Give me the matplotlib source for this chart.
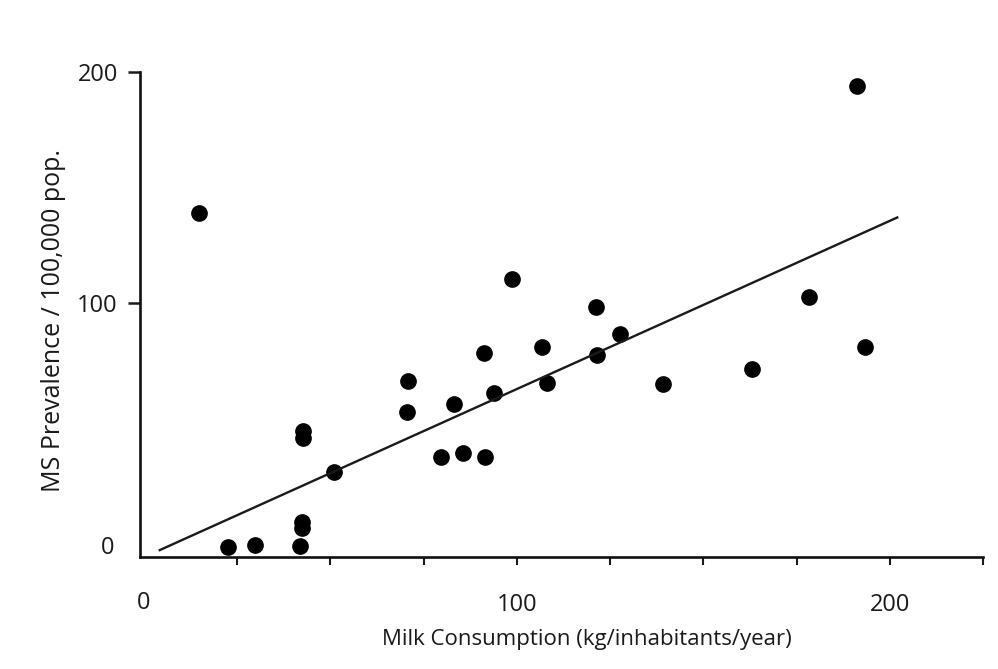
import matplotlib
matplotlib.use("Agg")
import matplotlib.pyplot as plt

plt.rcParams['font.family'] = ['Open Sans', 'DejaVu Sans']

# milk consumption (kg/inhabitant/year) vs MS prevalence per 100,000
milk = [14.7, 22.5, 29.8, 41.8, 42.4, 42.4, 42.6, 42.6, 50.9,
        70.5, 70.8, 79.6, 83.1, 85.5, 91.2, 91.4, 93.8, 98.7,
        106.7, 108.0, 121.2, 121.4, 127.6, 139.1, 163.0, 178.3,
        191.2, 193.3]
prevalence = [139, -5.6, -4.8, -5.2, 2.5, 5.0, 41.5, 44.5, 26.8,
              52.8, 66.2, 33.3, 56.3, 35.0, 78.4, 33.3, 61.0, 110.4,
              81.0, 65.4, 98.3, 77.5, 86.6, 64.9, 71.4, 102.6,
              194.0, 81.0]

# regression line end points
line_x = [4.3, 202]
line_y = [-7, 137]

fig = plt.figure(figsize=(9.98, 6.69), dpi=100)
ax = fig.add_axes([0.1403, 0.1674, 0.8447, 0.725])

ax.plot(milk, prevalence, 'o', color='black', markersize=11)
ax.plot(line_x, line_y, color='#1a1a1a', linewidth=1.7)

ax.set_xlim(-1, 225)
ax.set_ylim(-10, 200)

for s in ['top', 'right']:
    ax.spines[s].set_visible(False)
for s in ['left', 'bottom']:
    ax.spines[s].set_linewidth(1.9)
    ax.spines[s].set_color('#111111')

ax.set_xticks(range(25, 226, 25))
ax.set_xticklabels(['' if v % 100 else str(v) for v in range(25, 226, 25)])
ax.set_yticks([100, 200])
ax.set_yticklabels(['100', '200'])
ax.tick_params(axis='x', direction='out', length=6, width=1.5, pad=20,
               labelsize=17, colors='#1a1a1a')
ax.tick_params(axis='y', direction='out', length=9, width=1.8, pad=7,
               labelsize=17, colors='#1a1a1a')

# zero labels sit apart from the ticks
ax.text(0, -0.095, '0', transform=ax.get_xaxis_transform(), ha='center',
        va='center', fontsize=17, color='#1a1a1a')
ax.text(-8, -6, '0', ha='right', va='center', fontsize=17, color='#1a1a1a')

fig.text(587 / 998, 1 - 640 / 669, 'Milk Consumption (kg/inhabitants/year)',
         ha='center', va='center', fontsize=16, color='#1a1a1a')
fig.text(54 / 998, 1 - 320 / 669, 'MS Prevalence / 100,000 pop.',
         ha='center', va='center', rotation=90, fontsize=18, color='#1a1a1a')

fig.savefig('out.png', dpi=100)
